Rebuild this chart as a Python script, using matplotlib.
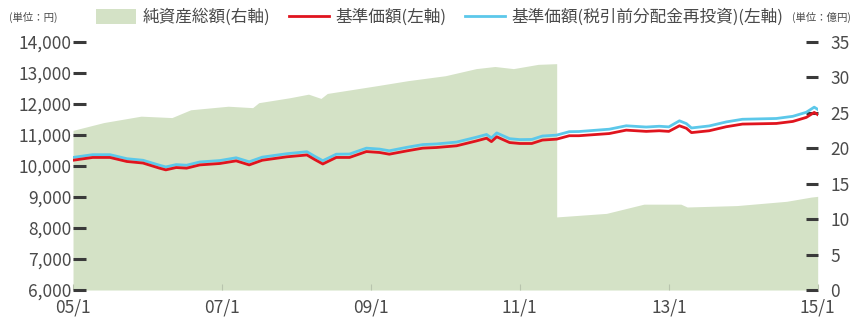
import matplotlib
matplotlib.use("Agg")
import matplotlib.pyplot as plt
import matplotlib.ticker as mticker
from matplotlib.patches import Patch
from matplotlib.lines import Line2D
import pandas as pd

plt.rcParams['font.family'] = ['Noto Sans CJK JP', 'DejaVu Sans']

# ---- data ----
price_dates = ['2005-01-01', '2005-04-07', '2005-07-01', '2005-09-22', '2005-12-10', '2006-03-01',
               '2006-04-01', '2006-05-22', '2006-07-12', '2006-09-15', '2006-12-22', '2007-03-12',
               '2007-05-15', '2007-07-18', '2007-11-15', '2008-02-22', '2008-04-01', '2008-05-10',
               '2008-07-15', '2008-09-18', '2008-12-10', '2009-02-12', '2009-04-01', '2009-06-25',
               '2009-09-12', '2009-11-18', '2010-02-25', '2010-06-01', '2010-07-22', '2010-08-15',
               '2010-09-10', '2010-11-12', '2011-01-01', '2011-03-01', '2011-04-22', '2011-07-01',
               '2011-09-01', '2011-10-18', '2012-03-15', '2012-06-06', '2012-09-12', '2012-11-15',
               '2013-01-01', '2013-02-22', '2013-03-28', '2013-04-22', '2013-07-18', '2013-10-10',
               '2013-12-28', '2014-06-12', '2014-09-01', '2014-11-06', '2014-12-15', '2015-01-01']
base_price = [10180, 10270, 10270, 10140, 10090, 9925,
              9870, 9945, 9925, 10030, 10075, 10160,
              10030, 10180, 10290, 10350, 10200, 10060,
              10270, 10270, 10460, 10430, 10375, 10480,
              10570, 10590, 10645, 10800, 10890, 10780,
              10935, 10750, 10720, 10720, 10830, 10860,
              10970, 10970, 11040, 11150, 11110, 11130,
              11110, 11290, 11210, 11070, 11130, 11260,
              11345, 11365, 11430, 11560, 11720, 11650]
reinvest_price = [10270, 10360, 10360, 10230, 10180, 10020,
                  9965, 10040, 10020, 10125, 10170, 10260,
                  10130, 10280, 10390, 10455, 10305, 10165,
                  10375, 10380, 10570, 10540, 10485, 10595,
                  10685, 10705, 10765, 10920, 11010, 10900,
                  11060, 10875, 10845, 10850, 10960, 10990,
                  11100, 11105, 11180, 11290, 11250, 11275,
                  11255, 11450, 11360, 11220, 11285, 11415,
                  11500, 11525, 11595, 11725, 11890, 11820]

asset_dates = ['2005-01-01', '2005-06-01', '2005-12-01', '2006-05-01', '2006-08-01', '2007-02-01',
               '2007-06-01', '2007-07-01', '2007-12-01', '2008-03-01', '2008-05-01', '2008-06-01',
               '2009-02-01', '2009-07-01', '2010-01-01', '2010-06-01', '2010-09-01', '2010-12-01',
               '2011-04-01', '2011-07-01', '2011-07-01', '2012-03-01', '2012-09-01', '2013-03-01',
               '2013-04-01', '2013-12-01', '2014-08-01', '2014-12-01', '2015-01-01']
net_assets = [22.5, 23.6, 24.5, 24.3, 25.4, 25.9,
              25.7, 26.4, 27.1, 27.6, 27.0, 27.7,
              28.8, 29.5, 30.2, 31.2, 31.5, 31.2,
              31.8, 31.9, 10.3, 10.8, 12.1, 12.1,
              11.7, 11.9, 12.5, 13.1, 13.2]

x_tick_dates = ['2005-01-01', '2007-01-01', '2009-01-01', '2011-01-01', '2013-01-01', '2015-01-01']
x_tick_labels = ['05/1', '07/1', '09/1', '11/1', '13/1', '15/1']
left_ticks = [6000, 7000, 8000, 9000, 10000, 11000, 12000, 13000, 14000]
right_ticks = [0, 5, 10, 15, 20, 25, 30, 35]

legend_labels = ['純資産総額(右軸)', '基準価額(左軸)', '基準価額(税引前分配金再投資)(左軸)']

# ---- styles ----
GREEN = '#d4e2c6'
RED = '#e0141e'
CYAN = '#5cc8ea'
TXT = '#4a4a4a'

fig = plt.figure(figsize=(8.53, 3.18), dpi=100)
ax = fig.add_axes([0.0856, 0.088, 0.873, 0.781])
ax2 = ax.twinx()
ax.set_zorder(ax2.get_zorder() + 1)
ax.patch.set_visible(False)

pd_price = pd.to_datetime(price_dates)
pd_asset = pd.to_datetime(asset_dates)

ax2.fill_between(pd_asset, 0, net_assets, color=GREEN, linewidth=0)
ax.plot(pd_price, reinvest_price, color=CYAN, lw=2.0, zorder=2)
ax.plot(pd_price, base_price, color=RED, lw=2.0, zorder=3)

ax.set_xlim(pd.Timestamp('2005-01-01'), pd.Timestamp('2015-01-01'))
ax.set_ylim(6000, 14000)
ax2.set_ylim(0, 35)

ax.set_xticks(pd.to_datetime(x_tick_dates))
ax.set_xticklabels(x_tick_labels)
ax.set_yticks(left_ticks)
ax.yaxis.set_major_formatter(mticker.FuncFormatter(lambda v, p: f'{v:,.0f}'))
ax2.set_yticks(right_ticks)

for a in (ax, ax2):
    for s in a.spines.values():
        s.set_visible(False)

ax.tick_params(axis='y', direction='in', length=9, width=2.2, color='#3a3a3a',
               labelsize=12.5, labelcolor=TXT, pad=1)
ax.tick_params(axis='x', direction='in', length=4, width=0.8, color='#b8c4ad',
               labelsize=12.5, labelcolor=TXT, pad=6)
ax2.tick_params(axis='y', direction='in', length=9, width=2.2, color='#3a3a3a',
                labelsize=12.5, labelcolor=TXT, pad=9)

fig.text(0.010, 0.945, '(単位：円)', fontsize=7.5, color=TXT, va='center', ha='left')
fig.text(0.998, 0.945, '(単位：億円)', fontsize=7.5, color=TXT, va='center', ha='right')

handles = [Patch(facecolor=GREEN, edgecolor='none'),
           Line2D([], [], color=RED, lw=2),
           Line2D([], [], color=CYAN, lw=2)]
fig.legend(handles, legend_labels, loc='center left', bbox_to_anchor=(0.113, 0.945),
           ncol=3, frameon=False, fontsize=12, handlelength=2.4, handleheight=0.95,
           handletextpad=0.4, columnspacing=1.1, borderaxespad=0, borderpad=0,
           labelcolor=TXT)

fig.savefig('out.png', dpi=100)
